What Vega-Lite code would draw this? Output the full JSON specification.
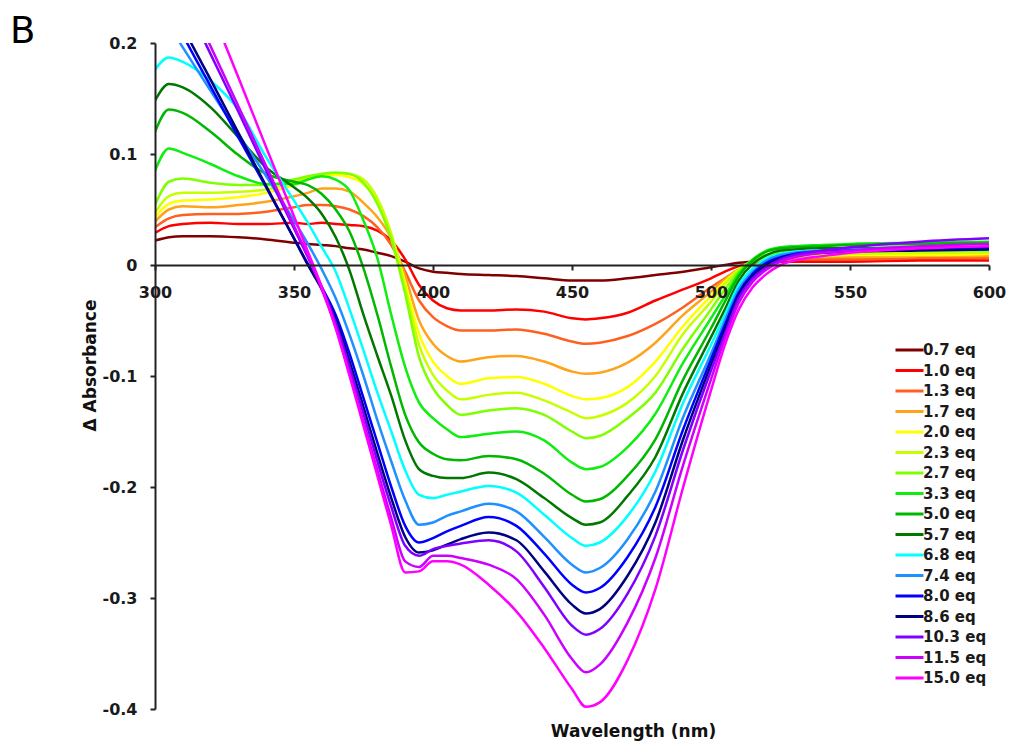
{
"$schema":"https://vega.github.io/schema/vega-lite/v6.json",
"width":834,"height":666,
"autosize":{"type":"none"},
"padding":{"left":155,"top":43,"right":22,"bottom":47},
"background":"white",
"title":{"text":"B","anchor":"start","frame":"group","dx":-145,"dy":16,"offset":0,"fontSize":37,"font":"DejaVu Sans","fontWeight":"normal","color":"black"},
"config":{"view":{"stroke":null}},
"datasets":{"spec":[
{"series":"0.7 eq","nm":300,"dA":0.022},{"series":"0.7 eq","nm":305,"dA":0.025},{"series":"0.7 eq","nm":310,"dA":0.026},{"series":"0.7 eq","nm":320,"dA":0.026},{"series":"0.7 eq","nm":330,"dA":0.025},{"series":"0.7 eq","nm":340,"dA":0.023},{"series":"0.7 eq","nm":350,"dA":0.020},{"series":"0.7 eq","nm":355,"dA":0.019},{"series":"0.7 eq","nm":360,"dA":0.018},{"series":"0.7 eq","nm":365,"dA":0.017},{"series":"0.7 eq","nm":370,"dA":0.015},{"series":"0.7 eq","nm":375,"dA":0.014},{"series":"0.7 eq","nm":380,"dA":0.011},{"series":"0.7 eq","nm":385,"dA":0.008},{"series":"0.7 eq","nm":390,"dA":0.003},{"series":"0.7 eq","nm":395,"dA":-0.003},{"series":"0.7 eq","nm":400,"dA":-0.006},{"series":"0.7 eq","nm":405,"dA":-0.007},{"series":"0.7 eq","nm":410,"dA":-0.008},{"series":"0.7 eq","nm":420,"dA":-0.009},{"series":"0.7 eq","nm":430,"dA":-0.010},{"series":"0.7 eq","nm":440,"dA":-0.012},{"series":"0.7 eq","nm":450,"dA":-0.014},{"series":"0.7 eq","nm":455,"dA":-0.014},{"series":"0.7 eq","nm":460,"dA":-0.014},{"series":"0.7 eq","nm":470,"dA":-0.012},{"series":"0.7 eq","nm":480,"dA":-0.009},{"series":"0.7 eq","nm":490,"dA":-0.006},{"series":"0.7 eq","nm":500,"dA":-0.002},{"series":"0.7 eq","nm":505,"dA":0.000},{"series":"0.7 eq","nm":510,"dA":0.002},{"series":"0.7 eq","nm":515,"dA":0.003},{"series":"0.7 eq","nm":520,"dA":0.004},{"series":"0.7 eq","nm":525,"dA":0.004},{"series":"0.7 eq","nm":530,"dA":0.004},{"series":"0.7 eq","nm":540,"dA":0.005},{"series":"0.7 eq","nm":550,"dA":0.005},{"series":"0.7 eq","nm":575,"dA":0.005},{"series":"0.7 eq","nm":600,"dA":0.006},
{"series":"1.0 eq","nm":300,"dA":0.029},{"series":"1.0 eq","nm":305,"dA":0.035},{"series":"1.0 eq","nm":310,"dA":0.037},{"series":"1.0 eq","nm":320,"dA":0.038},{"series":"1.0 eq","nm":330,"dA":0.037},{"series":"1.0 eq","nm":340,"dA":0.037},{"series":"1.0 eq","nm":350,"dA":0.038},{"series":"1.0 eq","nm":355,"dA":0.037},{"series":"1.0 eq","nm":360,"dA":0.038},{"series":"1.0 eq","nm":365,"dA":0.037},{"series":"1.0 eq","nm":370,"dA":0.036},{"series":"1.0 eq","nm":375,"dA":0.035},{"series":"1.0 eq","nm":380,"dA":0.031},{"series":"1.0 eq","nm":385,"dA":0.022},{"series":"1.0 eq","nm":390,"dA":0.005},{"series":"1.0 eq","nm":395,"dA":-0.018},{"series":"1.0 eq","nm":400,"dA":-0.032},{"series":"1.0 eq","nm":405,"dA":-0.039},{"series":"1.0 eq","nm":410,"dA":-0.041},{"series":"1.0 eq","nm":420,"dA":-0.041},{"series":"1.0 eq","nm":430,"dA":-0.040},{"series":"1.0 eq","nm":440,"dA":-0.042},{"series":"1.0 eq","nm":450,"dA":-0.048},{"series":"1.0 eq","nm":455,"dA":-0.049},{"series":"1.0 eq","nm":460,"dA":-0.048},{"series":"1.0 eq","nm":470,"dA":-0.043},{"series":"1.0 eq","nm":480,"dA":-0.032},{"series":"1.0 eq","nm":490,"dA":-0.022},{"series":"1.0 eq","nm":500,"dA":-0.012},{"series":"1.0 eq","nm":505,"dA":-0.006},{"series":"1.0 eq","nm":510,"dA":-0.001},{"series":"1.0 eq","nm":515,"dA":0.001},{"series":"1.0 eq","nm":520,"dA":0.002},{"series":"1.0 eq","nm":525,"dA":0.003},{"series":"1.0 eq","nm":530,"dA":0.003},{"series":"1.0 eq","nm":540,"dA":0.003},{"series":"1.0 eq","nm":550,"dA":0.003},{"series":"1.0 eq","nm":575,"dA":0.004},{"series":"1.0 eq","nm":600,"dA":0.004},
{"series":"1.3 eq","nm":300,"dA":0.034},{"series":"1.3 eq","nm":305,"dA":0.042},{"series":"1.3 eq","nm":310,"dA":0.045},{"series":"1.3 eq","nm":320,"dA":0.046},{"series":"1.3 eq","nm":330,"dA":0.046},{"series":"1.3 eq","nm":340,"dA":0.048},{"series":"1.3 eq","nm":350,"dA":0.052},{"series":"1.3 eq","nm":355,"dA":0.054},{"series":"1.3 eq","nm":360,"dA":0.054},{"series":"1.3 eq","nm":365,"dA":0.053},{"series":"1.3 eq","nm":370,"dA":0.050},{"series":"1.3 eq","nm":375,"dA":0.044},{"series":"1.3 eq","nm":380,"dA":0.034},{"series":"1.3 eq","nm":385,"dA":0.018},{"series":"1.3 eq","nm":390,"dA":-0.006},{"series":"1.3 eq","nm":395,"dA":-0.032},{"series":"1.3 eq","nm":400,"dA":-0.047},{"series":"1.3 eq","nm":405,"dA":-0.055},{"series":"1.3 eq","nm":410,"dA":-0.059},{"series":"1.3 eq","nm":420,"dA":-0.059},{"series":"1.3 eq","nm":430,"dA":-0.058},{"series":"1.3 eq","nm":440,"dA":-0.062},{"series":"1.3 eq","nm":450,"dA":-0.069},{"series":"1.3 eq","nm":455,"dA":-0.071},{"series":"1.3 eq","nm":460,"dA":-0.070},{"series":"1.3 eq","nm":470,"dA":-0.064},{"series":"1.3 eq","nm":480,"dA":-0.053},{"series":"1.3 eq","nm":490,"dA":-0.038},{"series":"1.3 eq","nm":500,"dA":-0.020},{"series":"1.3 eq","nm":505,"dA":-0.012},{"series":"1.3 eq","nm":510,"dA":-0.004},{"series":"1.3 eq","nm":515,"dA":0.001},{"series":"1.3 eq","nm":520,"dA":0.003},{"series":"1.3 eq","nm":525,"dA":0.004},{"series":"1.3 eq","nm":530,"dA":0.005},{"series":"1.3 eq","nm":540,"dA":0.005},{"series":"1.3 eq","nm":550,"dA":0.005},{"series":"1.3 eq","nm":575,"dA":0.006},{"series":"1.3 eq","nm":600,"dA":0.006},
{"series":"1.7 eq","nm":300,"dA":0.039},{"series":"1.7 eq","nm":305,"dA":0.050},{"series":"1.7 eq","nm":310,"dA":0.053},{"series":"1.7 eq","nm":320,"dA":0.052},{"series":"1.7 eq","nm":330,"dA":0.054},{"series":"1.7 eq","nm":340,"dA":0.057},{"series":"1.7 eq","nm":350,"dA":0.062},{"series":"1.7 eq","nm":355,"dA":0.065},{"series":"1.7 eq","nm":360,"dA":0.069},{"series":"1.7 eq","nm":365,"dA":0.069},{"series":"1.7 eq","nm":370,"dA":0.066},{"series":"1.7 eq","nm":375,"dA":0.056},{"series":"1.7 eq","nm":380,"dA":0.043},{"series":"1.7 eq","nm":385,"dA":0.024},{"series":"1.7 eq","nm":390,"dA":-0.010},{"series":"1.7 eq","nm":395,"dA":-0.050},{"series":"1.7 eq","nm":400,"dA":-0.071},{"series":"1.7 eq","nm":405,"dA":-0.082},{"series":"1.7 eq","nm":410,"dA":-0.087},{"series":"1.7 eq","nm":420,"dA":-0.083},{"series":"1.7 eq","nm":430,"dA":-0.082},{"series":"1.7 eq","nm":440,"dA":-0.087},{"series":"1.7 eq","nm":450,"dA":-0.096},{"series":"1.7 eq","nm":455,"dA":-0.098},{"series":"1.7 eq","nm":460,"dA":-0.097},{"series":"1.7 eq","nm":470,"dA":-0.088},{"series":"1.7 eq","nm":480,"dA":-0.070},{"series":"1.7 eq","nm":490,"dA":-0.045},{"series":"1.7 eq","nm":500,"dA":-0.024},{"series":"1.7 eq","nm":505,"dA":-0.013},{"series":"1.7 eq","nm":510,"dA":-0.004},{"series":"1.7 eq","nm":515,"dA":0.002},{"series":"1.7 eq","nm":520,"dA":0.005},{"series":"1.7 eq","nm":525,"dA":0.006},{"series":"1.7 eq","nm":530,"dA":0.007},{"series":"1.7 eq","nm":540,"dA":0.007},{"series":"1.7 eq","nm":550,"dA":0.007},{"series":"1.7 eq","nm":575,"dA":0.008},{"series":"1.7 eq","nm":600,"dA":0.008},
{"series":"2.0 eq","nm":300,"dA":0.043},{"series":"2.0 eq","nm":305,"dA":0.055},{"series":"2.0 eq","nm":310,"dA":0.058},{"series":"2.0 eq","nm":320,"dA":0.059},{"series":"2.0 eq","nm":330,"dA":0.061},{"series":"2.0 eq","nm":340,"dA":0.065},{"series":"2.0 eq","nm":350,"dA":0.072},{"series":"2.0 eq","nm":355,"dA":0.077},{"series":"2.0 eq","nm":360,"dA":0.080},{"series":"2.0 eq","nm":365,"dA":0.081},{"series":"2.0 eq","nm":370,"dA":0.079},{"series":"2.0 eq","nm":375,"dA":0.073},{"series":"2.0 eq","nm":380,"dA":0.057},{"series":"2.0 eq","nm":385,"dA":0.027},{"series":"2.0 eq","nm":390,"dA":-0.016},{"series":"2.0 eq","nm":395,"dA":-0.062},{"series":"2.0 eq","nm":400,"dA":-0.087},{"series":"2.0 eq","nm":405,"dA":-0.100},{"series":"2.0 eq","nm":410,"dA":-0.107},{"series":"2.0 eq","nm":420,"dA":-0.102},{"series":"2.0 eq","nm":430,"dA":-0.101},{"series":"2.0 eq","nm":440,"dA":-0.107},{"series":"2.0 eq","nm":450,"dA":-0.118},{"series":"2.0 eq","nm":455,"dA":-0.121},{"series":"2.0 eq","nm":460,"dA":-0.120},{"series":"2.0 eq","nm":470,"dA":-0.110},{"series":"2.0 eq","nm":480,"dA":-0.087},{"series":"2.0 eq","nm":490,"dA":-0.055},{"series":"2.0 eq","nm":500,"dA":-0.028},{"series":"2.0 eq","nm":505,"dA":-0.015},{"series":"2.0 eq","nm":510,"dA":-0.004},{"series":"2.0 eq","nm":515,"dA":0.003},{"series":"2.0 eq","nm":520,"dA":0.006},{"series":"2.0 eq","nm":525,"dA":0.007},{"series":"2.0 eq","nm":530,"dA":0.008},{"series":"2.0 eq","nm":540,"dA":0.008},{"series":"2.0 eq","nm":550,"dA":0.009},{"series":"2.0 eq","nm":575,"dA":0.009},{"series":"2.0 eq","nm":600,"dA":0.010},
{"series":"2.3 eq","nm":300,"dA":0.047},{"series":"2.3 eq","nm":305,"dA":0.062},{"series":"2.3 eq","nm":310,"dA":0.065},{"series":"2.3 eq","nm":320,"dA":0.065},{"series":"2.3 eq","nm":330,"dA":0.066},{"series":"2.3 eq","nm":340,"dA":0.068},{"series":"2.3 eq","nm":350,"dA":0.075},{"series":"2.3 eq","nm":355,"dA":0.079},{"series":"2.3 eq","nm":360,"dA":0.082},{"series":"2.3 eq","nm":365,"dA":0.083},{"series":"2.3 eq","nm":370,"dA":0.082},{"series":"2.3 eq","nm":375,"dA":0.077},{"series":"2.3 eq","nm":380,"dA":0.060},{"series":"2.3 eq","nm":385,"dA":0.028},{"series":"2.3 eq","nm":390,"dA":-0.020},{"series":"2.3 eq","nm":395,"dA":-0.072},{"series":"2.3 eq","nm":400,"dA":-0.099},{"series":"2.3 eq","nm":405,"dA":-0.113},{"series":"2.3 eq","nm":410,"dA":-0.121},{"series":"2.3 eq","nm":420,"dA":-0.117},{"series":"2.3 eq","nm":430,"dA":-0.115},{"series":"2.3 eq","nm":440,"dA":-0.122},{"series":"2.3 eq","nm":450,"dA":-0.133},{"series":"2.3 eq","nm":455,"dA":-0.138},{"series":"2.3 eq","nm":460,"dA":-0.136},{"series":"2.3 eq","nm":470,"dA":-0.124},{"series":"2.3 eq","nm":480,"dA":-0.100},{"series":"2.3 eq","nm":490,"dA":-0.062},{"series":"2.3 eq","nm":500,"dA":-0.033},{"series":"2.3 eq","nm":505,"dA":-0.017},{"series":"2.3 eq","nm":510,"dA":-0.004},{"series":"2.3 eq","nm":515,"dA":0.004},{"series":"2.3 eq","nm":520,"dA":0.008},{"series":"2.3 eq","nm":525,"dA":0.009},{"series":"2.3 eq","nm":530,"dA":0.010},{"series":"2.3 eq","nm":540,"dA":0.010},{"series":"2.3 eq","nm":550,"dA":0.010},{"series":"2.3 eq","nm":575,"dA":0.011},{"series":"2.3 eq","nm":600,"dA":0.011},
{"series":"2.7 eq","nm":300,"dA":0.054},{"series":"2.7 eq","nm":305,"dA":0.075},{"series":"2.7 eq","nm":310,"dA":0.078},{"series":"2.7 eq","nm":320,"dA":0.074},{"series":"2.7 eq","nm":330,"dA":0.072},{"series":"2.7 eq","nm":340,"dA":0.072},{"series":"2.7 eq","nm":350,"dA":0.077},{"series":"2.7 eq","nm":355,"dA":0.080},{"series":"2.7 eq","nm":360,"dA":0.082},{"series":"2.7 eq","nm":365,"dA":0.083},{"series":"2.7 eq","nm":370,"dA":0.082},{"series":"2.7 eq","nm":375,"dA":0.074},{"series":"2.7 eq","nm":380,"dA":0.055},{"series":"2.7 eq","nm":385,"dA":0.023},{"series":"2.7 eq","nm":390,"dA":-0.026},{"series":"2.7 eq","nm":395,"dA":-0.083},{"series":"2.7 eq","nm":400,"dA":-0.111},{"series":"2.7 eq","nm":405,"dA":-0.126},{"series":"2.7 eq","nm":410,"dA":-0.135},{"series":"2.7 eq","nm":420,"dA":-0.131},{"series":"2.7 eq","nm":430,"dA":-0.129},{"series":"2.7 eq","nm":440,"dA":-0.135},{"series":"2.7 eq","nm":450,"dA":-0.150},{"series":"2.7 eq","nm":455,"dA":-0.156},{"series":"2.7 eq","nm":460,"dA":-0.154},{"series":"2.7 eq","nm":470,"dA":-0.138},{"series":"2.7 eq","nm":480,"dA":-0.115},{"series":"2.7 eq","nm":490,"dA":-0.075},{"series":"2.7 eq","nm":500,"dA":-0.040},{"series":"2.7 eq","nm":505,"dA":-0.022},{"series":"2.7 eq","nm":510,"dA":-0.006},{"series":"2.7 eq","nm":515,"dA":0.004},{"series":"2.7 eq","nm":520,"dA":0.009},{"series":"2.7 eq","nm":525,"dA":0.011},{"series":"2.7 eq","nm":530,"dA":0.012},{"series":"2.7 eq","nm":540,"dA":0.012},{"series":"2.7 eq","nm":550,"dA":0.012},{"series":"2.7 eq","nm":575,"dA":0.013},{"series":"2.7 eq","nm":600,"dA":0.013},
{"series":"3.3 eq","nm":300,"dA":0.085},{"series":"3.3 eq","nm":305,"dA":0.105},{"series":"3.3 eq","nm":310,"dA":0.101},{"series":"3.3 eq","nm":320,"dA":0.091},{"series":"3.3 eq","nm":330,"dA":0.080},{"series":"3.3 eq","nm":340,"dA":0.073},{"series":"3.3 eq","nm":350,"dA":0.073},{"series":"3.3 eq","nm":355,"dA":0.077},{"series":"3.3 eq","nm":360,"dA":0.080},{"series":"3.3 eq","nm":365,"dA":0.077},{"series":"3.3 eq","nm":370,"dA":0.067},{"series":"3.3 eq","nm":375,"dA":0.040},{"series":"3.3 eq","nm":380,"dA":0.006},{"series":"3.3 eq","nm":385,"dA":-0.045},{"series":"3.3 eq","nm":390,"dA":-0.092},{"series":"3.3 eq","nm":395,"dA":-0.124},{"series":"3.3 eq","nm":400,"dA":-0.138},{"series":"3.3 eq","nm":405,"dA":-0.148},{"series":"3.3 eq","nm":410,"dA":-0.155},{"series":"3.3 eq","nm":420,"dA":-0.152},{"series":"3.3 eq","nm":430,"dA":-0.150},{"series":"3.3 eq","nm":440,"dA":-0.158},{"series":"3.3 eq","nm":450,"dA":-0.178},{"series":"3.3 eq","nm":455,"dA":-0.184},{"series":"3.3 eq","nm":460,"dA":-0.182},{"series":"3.3 eq","nm":470,"dA":-0.164},{"series":"3.3 eq","nm":480,"dA":-0.134},{"series":"3.3 eq","nm":490,"dA":-0.088},{"series":"3.3 eq","nm":500,"dA":-0.048},{"series":"3.3 eq","nm":505,"dA":-0.028},{"series":"3.3 eq","nm":510,"dA":-0.008},{"series":"3.3 eq","nm":515,"dA":0.005},{"series":"3.3 eq","nm":520,"dA":0.013},{"series":"3.3 eq","nm":525,"dA":0.016},{"series":"3.3 eq","nm":530,"dA":0.017},{"series":"3.3 eq","nm":540,"dA":0.018},{"series":"3.3 eq","nm":550,"dA":0.019},{"series":"3.3 eq","nm":575,"dA":0.020},{"series":"3.3 eq","nm":600,"dA":0.021},
{"series":"5.0 eq","nm":300,"dA":0.120},{"series":"5.0 eq","nm":305,"dA":0.140},{"series":"5.0 eq","nm":310,"dA":0.137},{"series":"5.0 eq","nm":320,"dA":0.120},{"series":"5.0 eq","nm":330,"dA":0.099},{"series":"5.0 eq","nm":340,"dA":0.082},{"series":"5.0 eq","nm":350,"dA":0.075},{"series":"5.0 eq","nm":355,"dA":0.072},{"series":"5.0 eq","nm":360,"dA":0.064},{"series":"5.0 eq","nm":365,"dA":0.050},{"series":"5.0 eq","nm":370,"dA":0.030},{"series":"5.0 eq","nm":375,"dA":-0.003},{"series":"5.0 eq","nm":380,"dA":-0.045},{"series":"5.0 eq","nm":385,"dA":-0.092},{"series":"5.0 eq","nm":390,"dA":-0.135},{"series":"5.0 eq","nm":395,"dA":-0.160},{"series":"5.0 eq","nm":400,"dA":-0.170},{"series":"5.0 eq","nm":405,"dA":-0.175},{"series":"5.0 eq","nm":410,"dA":-0.176},{"series":"5.0 eq","nm":420,"dA":-0.172},{"series":"5.0 eq","nm":430,"dA":-0.175},{"series":"5.0 eq","nm":440,"dA":-0.188},{"series":"5.0 eq","nm":450,"dA":-0.207},{"series":"5.0 eq","nm":455,"dA":-0.213},{"series":"5.0 eq","nm":460,"dA":-0.211},{"series":"5.0 eq","nm":470,"dA":-0.190},{"series":"5.0 eq","nm":480,"dA":-0.157},{"series":"5.0 eq","nm":490,"dA":-0.103},{"series":"5.0 eq","nm":500,"dA":-0.057},{"series":"5.0 eq","nm":505,"dA":-0.033},{"series":"5.0 eq","nm":510,"dA":-0.010},{"series":"5.0 eq","nm":515,"dA":0.004},{"series":"5.0 eq","nm":520,"dA":0.012},{"series":"5.0 eq","nm":525,"dA":0.015},{"series":"5.0 eq","nm":530,"dA":0.016},{"series":"5.0 eq","nm":540,"dA":0.017},{"series":"5.0 eq","nm":550,"dA":0.018},{"series":"5.0 eq","nm":575,"dA":0.019},{"series":"5.0 eq","nm":600,"dA":0.020},
{"series":"5.7 eq","nm":300,"dA":0.148},{"series":"5.7 eq","nm":305,"dA":0.163},{"series":"5.7 eq","nm":310,"dA":0.160},{"series":"5.7 eq","nm":320,"dA":0.142},{"series":"5.7 eq","nm":330,"dA":0.115},{"series":"5.7 eq","nm":340,"dA":0.088},{"series":"5.7 eq","nm":350,"dA":0.070},{"series":"5.7 eq","nm":355,"dA":0.060},{"series":"5.7 eq","nm":360,"dA":0.046},{"series":"5.7 eq","nm":365,"dA":0.025},{"series":"5.7 eq","nm":370,"dA":-0.005},{"series":"5.7 eq","nm":375,"dA":-0.045},{"series":"5.7 eq","nm":380,"dA":-0.082},{"series":"5.7 eq","nm":385,"dA":-0.118},{"series":"5.7 eq","nm":390,"dA":-0.158},{"series":"5.7 eq","nm":395,"dA":-0.184},{"series":"5.7 eq","nm":400,"dA":-0.190},{"series":"5.7 eq","nm":405,"dA":-0.192},{"series":"5.7 eq","nm":410,"dA":-0.192},{"series":"5.7 eq","nm":420,"dA":-0.187},{"series":"5.7 eq","nm":430,"dA":-0.193},{"series":"5.7 eq","nm":440,"dA":-0.210},{"series":"5.7 eq","nm":450,"dA":-0.228},{"series":"5.7 eq","nm":455,"dA":-0.234},{"series":"5.7 eq","nm":460,"dA":-0.232},{"series":"5.7 eq","nm":470,"dA":-0.208},{"series":"5.7 eq","nm":480,"dA":-0.173},{"series":"5.7 eq","nm":490,"dA":-0.115},{"series":"5.7 eq","nm":500,"dA":-0.065},{"series":"5.7 eq","nm":505,"dA":-0.040},{"series":"5.7 eq","nm":510,"dA":-0.014},{"series":"5.7 eq","nm":515,"dA":0.001},{"series":"5.7 eq","nm":520,"dA":0.009},{"series":"5.7 eq","nm":525,"dA":0.013},{"series":"5.7 eq","nm":530,"dA":0.014},{"series":"5.7 eq","nm":540,"dA":0.015},{"series":"5.7 eq","nm":550,"dA":0.015},{"series":"5.7 eq","nm":575,"dA":0.016},{"series":"5.7 eq","nm":600,"dA":0.016},
{"series":"6.8 eq","nm":300,"dA":0.176},{"series":"6.8 eq","nm":305,"dA":0.187},{"series":"6.8 eq","nm":310,"dA":0.183},{"series":"6.8 eq","nm":320,"dA":0.166},{"series":"6.8 eq","nm":330,"dA":0.140},{"series":"6.8 eq","nm":340,"dA":0.097},{"series":"6.8 eq","nm":350,"dA":0.058},{"series":"6.8 eq","nm":355,"dA":0.038},{"series":"6.8 eq","nm":360,"dA":0.016},{"series":"6.8 eq","nm":365,"dA":-0.006},{"series":"6.8 eq","nm":370,"dA":-0.040},{"series":"6.8 eq","nm":375,"dA":-0.077},{"series":"6.8 eq","nm":380,"dA":-0.115},{"series":"6.8 eq","nm":385,"dA":-0.150},{"series":"6.8 eq","nm":390,"dA":-0.185},{"series":"6.8 eq","nm":395,"dA":-0.207},{"series":"6.8 eq","nm":400,"dA":-0.210},{"series":"6.8 eq","nm":405,"dA":-0.207},{"series":"6.8 eq","nm":410,"dA":-0.204},{"series":"6.8 eq","nm":420,"dA":-0.199},{"series":"6.8 eq","nm":430,"dA":-0.205},{"series":"6.8 eq","nm":440,"dA":-0.225},{"series":"6.8 eq","nm":450,"dA":-0.246},{"series":"6.8 eq","nm":455,"dA":-0.253},{"series":"6.8 eq","nm":460,"dA":-0.250},{"series":"6.8 eq","nm":470,"dA":-0.226},{"series":"6.8 eq","nm":480,"dA":-0.186},{"series":"6.8 eq","nm":490,"dA":-0.124},{"series":"6.8 eq","nm":500,"dA":-0.072},{"series":"6.8 eq","nm":505,"dA":-0.045},{"series":"6.8 eq","nm":510,"dA":-0.018},{"series":"6.8 eq","nm":515,"dA":-0.003},{"series":"6.8 eq","nm":520,"dA":0.006},{"series":"6.8 eq","nm":525,"dA":0.010},{"series":"6.8 eq","nm":530,"dA":0.012},{"series":"6.8 eq","nm":540,"dA":0.013},{"series":"6.8 eq","nm":550,"dA":0.013},{"series":"6.8 eq","nm":575,"dA":0.014},{"series":"6.8 eq","nm":600,"dA":0.014},
{"series":"7.4 eq","nm":300,"dA":0.235},{"series":"7.4 eq","nm":305,"dA":0.216},{"series":"7.4 eq","nm":310,"dA":0.196},{"series":"7.4 eq","nm":320,"dA":0.157},{"series":"7.4 eq","nm":330,"dA":0.118},{"series":"7.4 eq","nm":340,"dA":0.080},{"series":"7.4 eq","nm":350,"dA":0.040},{"series":"7.4 eq","nm":355,"dA":0.019},{"series":"7.4 eq","nm":360,"dA":-0.004},{"series":"7.4 eq","nm":365,"dA":-0.030},{"series":"7.4 eq","nm":370,"dA":-0.063},{"series":"7.4 eq","nm":375,"dA":-0.100},{"series":"7.4 eq","nm":380,"dA":-0.140},{"series":"7.4 eq","nm":385,"dA":-0.177},{"series":"7.4 eq","nm":390,"dA":-0.212},{"series":"7.4 eq","nm":395,"dA":-0.234},{"series":"7.4 eq","nm":400,"dA":-0.232},{"series":"7.4 eq","nm":405,"dA":-0.226},{"series":"7.4 eq","nm":410,"dA":-0.222},{"series":"7.4 eq","nm":420,"dA":-0.215},{"series":"7.4 eq","nm":430,"dA":-0.222},{"series":"7.4 eq","nm":440,"dA":-0.245},{"series":"7.4 eq","nm":450,"dA":-0.270},{"series":"7.4 eq","nm":455,"dA":-0.277},{"series":"7.4 eq","nm":460,"dA":-0.273},{"series":"7.4 eq","nm":470,"dA":-0.247},{"series":"7.4 eq","nm":480,"dA":-0.204},{"series":"7.4 eq","nm":490,"dA":-0.137},{"series":"7.4 eq","nm":500,"dA":-0.080},{"series":"7.4 eq","nm":505,"dA":-0.050},{"series":"7.4 eq","nm":510,"dA":-0.022},{"series":"7.4 eq","nm":515,"dA":-0.006},{"series":"7.4 eq","nm":520,"dA":0.004},{"series":"7.4 eq","nm":525,"dA":0.009},{"series":"7.4 eq","nm":530,"dA":0.011},{"series":"7.4 eq","nm":540,"dA":0.013},{"series":"7.4 eq","nm":550,"dA":0.014},{"series":"7.4 eq","nm":575,"dA":0.015},{"series":"7.4 eq","nm":600,"dA":0.015},
{"series":"8.0 eq","nm":300,"dA":0.250},{"series":"8.0 eq","nm":305,"dA":0.230},{"series":"8.0 eq","nm":310,"dA":0.207},{"series":"8.0 eq","nm":320,"dA":0.161},{"series":"8.0 eq","nm":330,"dA":0.115},{"series":"8.0 eq","nm":340,"dA":0.070},{"series":"8.0 eq","nm":350,"dA":0.024},{"series":"8.0 eq","nm":355,"dA":0.001},{"series":"8.0 eq","nm":360,"dA":-0.020},{"series":"8.0 eq","nm":365,"dA":-0.045},{"series":"8.0 eq","nm":370,"dA":-0.080},{"series":"8.0 eq","nm":375,"dA":-0.120},{"series":"8.0 eq","nm":380,"dA":-0.160},{"series":"8.0 eq","nm":385,"dA":-0.200},{"series":"8.0 eq","nm":390,"dA":-0.235},{"series":"8.0 eq","nm":395,"dA":-0.250},{"series":"8.0 eq","nm":400,"dA":-0.246},{"series":"8.0 eq","nm":405,"dA":-0.240},{"series":"8.0 eq","nm":410,"dA":-0.235},{"series":"8.0 eq","nm":420,"dA":-0.227},{"series":"8.0 eq","nm":430,"dA":-0.235},{"series":"8.0 eq","nm":440,"dA":-0.260},{"series":"8.0 eq","nm":450,"dA":-0.288},{"series":"8.0 eq","nm":455,"dA":-0.295},{"series":"8.0 eq","nm":460,"dA":-0.291},{"series":"8.0 eq","nm":470,"dA":-0.263},{"series":"8.0 eq","nm":480,"dA":-0.218},{"series":"8.0 eq","nm":490,"dA":-0.148},{"series":"8.0 eq","nm":500,"dA":-0.085},{"series":"8.0 eq","nm":505,"dA":-0.054},{"series":"8.0 eq","nm":510,"dA":-0.025},{"series":"8.0 eq","nm":515,"dA":-0.008},{"series":"8.0 eq","nm":520,"dA":0.002},{"series":"8.0 eq","nm":525,"dA":0.007},{"series":"8.0 eq","nm":530,"dA":0.010},{"series":"8.0 eq","nm":540,"dA":0.012},{"series":"8.0 eq","nm":550,"dA":0.013},{"series":"8.0 eq","nm":575,"dA":0.014},{"series":"8.0 eq","nm":600,"dA":0.015},
{"series":"8.6 eq","nm":300,"dA":0.262},{"series":"8.6 eq","nm":305,"dA":0.238},{"series":"8.6 eq","nm":310,"dA":0.214},{"series":"8.6 eq","nm":320,"dA":0.167},{"series":"8.6 eq","nm":330,"dA":0.119},{"series":"8.6 eq","nm":340,"dA":0.071},{"series":"8.6 eq","nm":350,"dA":0.024},{"series":"8.6 eq","nm":355,"dA":0.000},{"series":"8.6 eq","nm":360,"dA":-0.022},{"series":"8.6 eq","nm":365,"dA":-0.049},{"series":"8.6 eq","nm":370,"dA":-0.087},{"series":"8.6 eq","nm":375,"dA":-0.128},{"series":"8.6 eq","nm":380,"dA":-0.170},{"series":"8.6 eq","nm":385,"dA":-0.210},{"series":"8.6 eq","nm":390,"dA":-0.245},{"series":"8.6 eq","nm":395,"dA":-0.259},{"series":"8.6 eq","nm":400,"dA":-0.257},{"series":"8.6 eq","nm":405,"dA":-0.252},{"series":"8.6 eq","nm":410,"dA":-0.247},{"series":"8.6 eq","nm":420,"dA":-0.241},{"series":"8.6 eq","nm":430,"dA":-0.248},{"series":"8.6 eq","nm":440,"dA":-0.276},{"series":"8.6 eq","nm":450,"dA":-0.306},{"series":"8.6 eq","nm":455,"dA":-0.314},{"series":"8.6 eq","nm":460,"dA":-0.310},{"series":"8.6 eq","nm":470,"dA":-0.280},{"series":"8.6 eq","nm":480,"dA":-0.232},{"series":"8.6 eq","nm":490,"dA":-0.157},{"series":"8.6 eq","nm":500,"dA":-0.090},{"series":"8.6 eq","nm":505,"dA":-0.058},{"series":"8.6 eq","nm":510,"dA":-0.027},{"series":"8.6 eq","nm":515,"dA":-0.010},{"series":"8.6 eq","nm":520,"dA":0.000},{"series":"8.6 eq","nm":525,"dA":0.006},{"series":"8.6 eq","nm":530,"dA":0.009},{"series":"8.6 eq","nm":540,"dA":0.011},{"series":"8.6 eq","nm":550,"dA":0.012},{"series":"8.6 eq","nm":575,"dA":0.013},{"series":"8.6 eq","nm":600,"dA":0.014},
{"series":"10.3 eq","nm":300,"dA":0.294},{"series":"10.3 eq","nm":305,"dA":0.268},{"series":"10.3 eq","nm":310,"dA":0.242},{"series":"10.3 eq","nm":320,"dA":0.190},{"series":"10.3 eq","nm":330,"dA":0.138},{"series":"10.3 eq","nm":340,"dA":0.085},{"series":"10.3 eq","nm":350,"dA":0.033},{"series":"10.3 eq","nm":355,"dA":0.007},{"series":"10.3 eq","nm":360,"dA":-0.020},{"series":"10.3 eq","nm":365,"dA":-0.052},{"series":"10.3 eq","nm":370,"dA":-0.092},{"series":"10.3 eq","nm":375,"dA":-0.134},{"series":"10.3 eq","nm":380,"dA":-0.177},{"series":"10.3 eq","nm":385,"dA":-0.218},{"series":"10.3 eq","nm":390,"dA":-0.253},{"series":"10.3 eq","nm":395,"dA":-0.262},{"series":"10.3 eq","nm":400,"dA":-0.256},{"series":"10.3 eq","nm":405,"dA":-0.253},{"series":"10.3 eq","nm":410,"dA":-0.251},{"series":"10.3 eq","nm":420,"dA":-0.248},{"series":"10.3 eq","nm":430,"dA":-0.258},{"series":"10.3 eq","nm":440,"dA":-0.290},{"series":"10.3 eq","nm":450,"dA":-0.325},{"series":"10.3 eq","nm":455,"dA":-0.333},{"series":"10.3 eq","nm":460,"dA":-0.328},{"series":"10.3 eq","nm":470,"dA":-0.296},{"series":"10.3 eq","nm":480,"dA":-0.244},{"series":"10.3 eq","nm":490,"dA":-0.166},{"series":"10.3 eq","nm":500,"dA":-0.095},{"series":"10.3 eq","nm":505,"dA":-0.062},{"series":"10.3 eq","nm":510,"dA":-0.030},{"series":"10.3 eq","nm":515,"dA":-0.012},{"series":"10.3 eq","nm":520,"dA":-0.002},{"series":"10.3 eq","nm":525,"dA":0.005},{"series":"10.3 eq","nm":530,"dA":0.009},{"series":"10.3 eq","nm":540,"dA":0.013},{"series":"10.3 eq","nm":550,"dA":0.016},{"series":"10.3 eq","nm":575,"dA":0.021},{"series":"10.3 eq","nm":600,"dA":0.024},
{"series":"11.5 eq","nm":300,"dA":0.305},{"series":"11.5 eq","nm":305,"dA":0.278},{"series":"11.5 eq","nm":310,"dA":0.251},{"series":"11.5 eq","nm":320,"dA":0.197},{"series":"11.5 eq","nm":330,"dA":0.143},{"series":"11.5 eq","nm":340,"dA":0.089},{"series":"11.5 eq","nm":350,"dA":0.035},{"series":"11.5 eq","nm":355,"dA":0.008},{"series":"11.5 eq","nm":360,"dA":-0.022},{"series":"11.5 eq","nm":365,"dA":-0.056},{"series":"11.5 eq","nm":370,"dA":-0.098},{"series":"11.5 eq","nm":375,"dA":-0.141},{"series":"11.5 eq","nm":380,"dA":-0.185},{"series":"11.5 eq","nm":385,"dA":-0.228},{"series":"11.5 eq","nm":390,"dA":-0.267},{"series":"11.5 eq","nm":395,"dA":-0.272},{"series":"11.5 eq","nm":400,"dA":-0.262},{"series":"11.5 eq","nm":405,"dA":-0.262},{"series":"11.5 eq","nm":410,"dA":-0.264},{"series":"11.5 eq","nm":420,"dA":-0.270},{"series":"11.5 eq","nm":430,"dA":-0.283},{"series":"11.5 eq","nm":440,"dA":-0.315},{"series":"11.5 eq","nm":450,"dA":-0.355},{"series":"11.5 eq","nm":455,"dA":-0.367},{"series":"11.5 eq","nm":460,"dA":-0.360},{"series":"11.5 eq","nm":470,"dA":-0.322},{"series":"11.5 eq","nm":480,"dA":-0.264},{"series":"11.5 eq","nm":490,"dA":-0.180},{"series":"11.5 eq","nm":500,"dA":-0.103},{"series":"11.5 eq","nm":505,"dA":-0.066},{"series":"11.5 eq","nm":510,"dA":-0.034},{"series":"11.5 eq","nm":515,"dA":-0.015},{"series":"11.5 eq","nm":520,"dA":-0.004},{"series":"11.5 eq","nm":525,"dA":0.003},{"series":"11.5 eq","nm":530,"dA":0.007},{"series":"11.5 eq","nm":540,"dA":0.011},{"series":"11.5 eq","nm":550,"dA":0.013},{"series":"11.5 eq","nm":575,"dA":0.017},{"series":"11.5 eq","nm":600,"dA":0.019},
{"series":"15.0 eq","nm":300,"dA":0.356},{"series":"15.0 eq","nm":305,"dA":0.325},{"series":"15.0 eq","nm":310,"dA":0.294},{"series":"15.0 eq","nm":320,"dA":0.231},{"series":"15.0 eq","nm":330,"dA":0.169},{"series":"15.0 eq","nm":340,"dA":0.106},{"series":"15.0 eq","nm":350,"dA":0.044},{"series":"15.0 eq","nm":355,"dA":0.012},{"series":"15.0 eq","nm":360,"dA":-0.020},{"series":"15.0 eq","nm":365,"dA":-0.057},{"series":"15.0 eq","nm":370,"dA":-0.100},{"series":"15.0 eq","nm":375,"dA":-0.145},{"series":"15.0 eq","nm":380,"dA":-0.190},{"series":"15.0 eq","nm":385,"dA":-0.235},{"series":"15.0 eq","nm":390,"dA":-0.277},{"series":"15.0 eq","nm":395,"dA":-0.276},{"series":"15.0 eq","nm":400,"dA":-0.267},{"series":"15.0 eq","nm":405,"dA":-0.267},{"series":"15.0 eq","nm":410,"dA":-0.270},{"series":"15.0 eq","nm":420,"dA":-0.288},{"series":"15.0 eq","nm":430,"dA":-0.312},{"series":"15.0 eq","nm":440,"dA":-0.345},{"series":"15.0 eq","nm":450,"dA":-0.382},{"series":"15.0 eq","nm":455,"dA":-0.398},{"series":"15.0 eq","nm":460,"dA":-0.394},{"series":"15.0 eq","nm":470,"dA":-0.356},{"series":"15.0 eq","nm":480,"dA":-0.292},{"series":"15.0 eq","nm":490,"dA":-0.200},{"series":"15.0 eq","nm":500,"dA":-0.113},{"series":"15.0 eq","nm":505,"dA":-0.072},{"series":"15.0 eq","nm":510,"dA":-0.040},{"series":"15.0 eq","nm":515,"dA":-0.020},{"series":"15.0 eq","nm":520,"dA":-0.008},{"series":"15.0 eq","nm":525,"dA":0.000},{"series":"15.0 eq","nm":530,"dA":0.004},{"series":"15.0 eq","nm":540,"dA":0.008},{"series":"15.0 eq","nm":550,"dA":0.011},{"series":"15.0 eq","nm":575,"dA":0.015},{"series":"15.0 eq","nm":600,"dA":0.017}
]},
"data":{"name":"spec"},
"mark":{"type":"line","strokeWidth":2.5,"clip":true,"interpolate":"monotone"},
"encoding":{
"x":{"field":"nm","type":"quantitative","scale":{"domain":[300,600],"nice":false,"zero":false},
"axis":{"values":[300,350,400,450,500,550,600],"offset":-444,"zindex":1,"grid":false,"title":"Wavelength (nm)","titleX":478,"titleY":466,"titleBaseline":"middle","titleAlign":"center","titleFont":"DejaVu Sans","titleFontSize":17,"titleFontWeight":"bold","titleColor":"#111","labelFont":"DejaVu Sans","labelFontSize":16,"labelFontWeight":"bold","labelColor":"#1a1a1a","labelFlush":false,"labelOverlap":false,"labelPadding":14,"tickSize":5,"tickWidth":2,"tickColor":"#222","domainColor":"#222","domainWidth":2}},
"y":{"field":"dA","type":"quantitative","scale":{"domain":[-0.4,0.2],"nice":false,"zero":false},
"axis":{"values":[-0.4,-0.3,-0.2,-0.1,0,0.1,0.2],"labelExpr":"'' + datum.value","zindex":1,"grid":false,"title":"Δ Absorbance","titleX":-65,"titleY":322,"titleAngle":-90,"titleBaseline":"middle","titleAlign":"center","titleFont":"DejaVu Sans","titleFontSize":17,"titleFontWeight":"bold","titleColor":"#111","labelFont":"DejaVu Sans","labelFontSize":16,"labelFontWeight":"bold","labelColor":"#1a1a1a","labelPadding":13,"tickSize":5,"tickWidth":2,"tickColor":"#222","domainColor":"#222","domainWidth":2}},
"color":{"field":"series","type":"nominal",
"scale":{"domain":["0.7 eq","1.0 eq","1.3 eq","1.7 eq","2.0 eq","2.3 eq","2.7 eq","3.3 eq","5.0 eq","5.7 eq","6.8 eq","7.4 eq","8.0 eq","8.6 eq","10.3 eq","11.5 eq","15.0 eq"],
"range":["#800000","#ff0000","#ff6020","#ffa31a","#ffff00","#c8ff00","#80ff00","#10ee10","#00b800","#007800","#00ffff","#1e90ff","#0000ff","#000080","#8000ff","#cc00ff","#ff00ff"]},
"legend":{"orient":"none","legendX":747,"legendY":299.5,"title":null,"padding":0,"symbolType":"M-2.8,0L2.8,0","symbolSize":100,"symbolStrokeWidth":3,"labelFont":"DejaVu Sans","labelFontSize":15,"labelFontWeight":"bold","labelColor":"#1a1a1a","labelOffset":6,"rowPadding":4.5,"labelLimit":200}}
}
}
